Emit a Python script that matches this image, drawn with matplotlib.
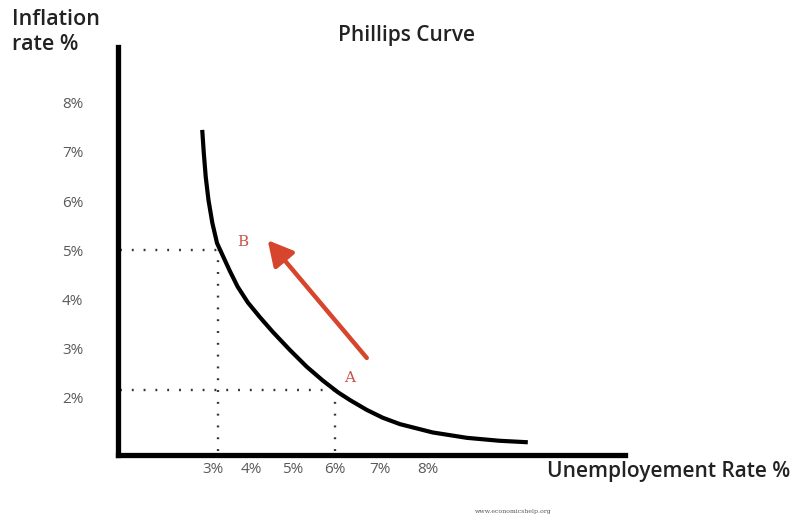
import numpy as np
import matplotlib.pyplot as plt

# curve (unemployment %, inflation %)
curve_u = [2.60, 2.64, 2.69, 2.76, 2.86, 2.98, 3.13, 3.31, 3.51, 3.77, 4.08, 4.41,
           4.85, 5.28, 5.69, 6.08, 6.39, 6.82, 7.23, 7.67, 8.51, 9.39, 10.23, 10.95]
curve_pi = [7.45, 6.98, 6.49, 6.02, 5.55, 5.14, 4.88, 4.57, 4.25, 3.93, 3.63, 3.33,
            2.96, 2.62, 2.34, 2.10, 1.94, 1.74, 1.58, 1.45, 1.28, 1.17, 1.11, 1.08]

point_b = (3.0, 5.0)
point_a = (6.0, 2.14)
arrow_from = (6.82, 2.80)
arrow_to = (4.28, 5.20)

y_ticks = [2, 3, 4, 5, 6, 7, 8]
y_labels = ["2%", "3%", "4%", "5%", "6%", "7%", "8%"]
x_ticks = [2.87, 3.87, 4.92, 6.0, 7.15, 8.38]
x_labels = ["3%", "4%", "5%", "6%", "7%", "8%"]

plt.rcParams['font.family'] = ['Open Sans', 'DejaVu Sans']

fig = plt.figure(figsize=(7.92, 5.18), dpi=100)
ax = fig.add_axes([0.149, 0.1216, 0.640, 0.7876])
ax.set_xlim(0.44, 13.44)
ax.set_ylim(0.82, 9.14)

for s in ["top", "right"]:
    ax.spines[s].set_visible(False)
for s in ["left", "bottom"]:
    ax.spines[s].set_linewidth(3.8)
    ax.spines[s].set_color("black")

ax.set_yticks(y_ticks, y_labels)
ax.set_xticks(x_ticks, x_labels)
ax.tick_params(axis="y", length=0, pad=25, labelsize=11, labelcolor="#5a5a5a")
ax.tick_params(axis="x", length=0, pad=5, labelsize=11, labelcolor="#5a5a5a")

# dotted guides
dot = dict(color="#333333", linewidth=1.7, linestyle=(0, (0.8, 4.2)))
for px, py in [point_b, point_a]:
    ax.plot([0.5, px], [py, py], **dot)
    ax.plot([px, px], [0.9, py], **dot)

ax.plot(curve_u, curve_pi, color="black", linewidth=3.0,
        solid_capstyle="butt", solid_joinstyle="round")

ax.annotate("", xy=arrow_to, xytext=arrow_from,
            arrowprops=dict(arrowstyle="-|>,head_length=0.75,head_width=0.4",
                            color="#d6452c", linewidth=3.2, mutation_scale=20,
                            shrinkA=0, shrinkB=0))

ax.text(3.64, 5.16, "B", color="#c8544a", fontsize=11, family="DejaVu Serif",
        ha="center", va="center")
ax.text(6.38, 2.39, "A", color="#c8544a", fontsize=11, family="DejaVu Serif",
        ha="center", va="center")

fig.text(12 / 792, 1 - 32 / 518, "Inflation\nrate %", fontsize=15.5, fontweight="semibold",
         color="#222222", ha="left", va="center", linespacing=1.25)
fig.text(406 / 792, 1 - 36 / 518, "Phillips Curve", fontsize=15, fontweight="semibold",
         color="#222222", ha="center", va="center")
fig.text(790 / 792, 1 - 472 / 518, "Unemployement Rate %", fontsize=15,
         fontweight="semibold", color="#222222", ha="right", va="center")
fig.text(513 / 792, 1 - 512 / 518, "www.economicshelp.org", fontsize=4.5,
         family="DejaVu Serif", color="#555555", ha="center", va="center")

plt.savefig("out.png", dpi=100)
